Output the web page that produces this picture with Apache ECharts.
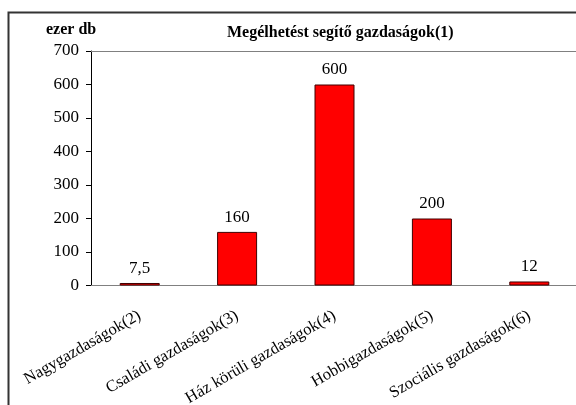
<!DOCTYPE html>
<html>
<head>
<meta charset="utf-8">
<script src="https://cdn.jsdelivr.net/npm/echarts@6/dist/echarts.min.js"></script>
<style>html,body{margin:0;padding:0;background:#fff}#c{width:576px;height:405px}</style>
</head>
<body>
<div id="c"></div>
<script>
var categories = ['Nagygazdaságok(2)', 'Családi gazdaságok(3)', 'Ház körüli gazdaságok(4)', 'Hobbigazdaságok(5)', 'Szociális gazdaságok(6)'];
var values = [7.5, 160, 600, 200, 12];
var yTicks = [0, 100, 200, 300, 400, 500, 600, 700];
var titleText = 'Megélhetést segítő gazdaságok(1)';
var unitText = 'ezer db';

var FONT = '"Liberation Serif", "Times New Roman", serif';
var chart = echarts.init(document.getElementById('c'), null, {renderer: 'canvas'});
chart.setOption({
  animation: false,
  backgroundColor: '#fff',
  title: [{
    text: titleText,
    left: 222, top: 20,
    textStyle: {fontFamily: FONT, fontSize: 16, fontWeight: 'bold', color: '#000'}
  }, {
    text: unitText,
    left: 41, top: 17,
    textStyle: {fontFamily: FONT, fontSize: 16, fontWeight: 'bold', color: '#000'}
  }],
  graphic: [{
    type: 'rect', left: 6, top: 10, silent: true,
    shape: {width: 620, height: 440},
    style: {fill: 'none', stroke: '#333', lineWidth: 2}
  }],
  grid: {left: 91, right: -2, top: 51, bottom: 119.5, containLabel: false, outerBoundsMode: 'none'},
  xAxis: [{
    type: 'category', data: categories,
    axisLine: {show: true, lineStyle: {color: '#808080', width: 1}},
    axisTick: {show: false},
    axisLabel: {rotate: 30, interval: 0, margin: 29, fontFamily: FONT, fontSize: 16.5, color: '#000'}
  }, {
    type: 'category', data: categories, position: 'top',
    axisLine: {show: true, lineStyle: {color: '#808080', width: 1}},
    axisTick: {show: false}, axisLabel: {show: false}
  }],
  yAxis: {
    type: 'value', min: yTicks[0], max: yTicks[yTicks.length - 1], interval: 100,
    axisLine: {show: true, lineStyle: {color: '#000', width: 1}},
    axisTick: {show: true, inside: false, length: 5, lineStyle: {color: '#000'}},
    axisLabel: {margin: 12, fontFamily: FONT, fontSize: 17, color: '#000'},
    splitLine: {show: false}
  },
  series: [{
    type: 'bar', data: values, barWidth: 40,
    itemStyle: {color: '#FF0000', borderColor: '#400000', borderWidth: 1},
    label: {
      show: true, position: 'top', distance: 6,
      fontFamily: FONT, fontSize: 17, color: '#000',
      formatter: function (p) { return String(p.value).replace('.', ','); }
    }
  }]
});
</script>
</body>
</html>
